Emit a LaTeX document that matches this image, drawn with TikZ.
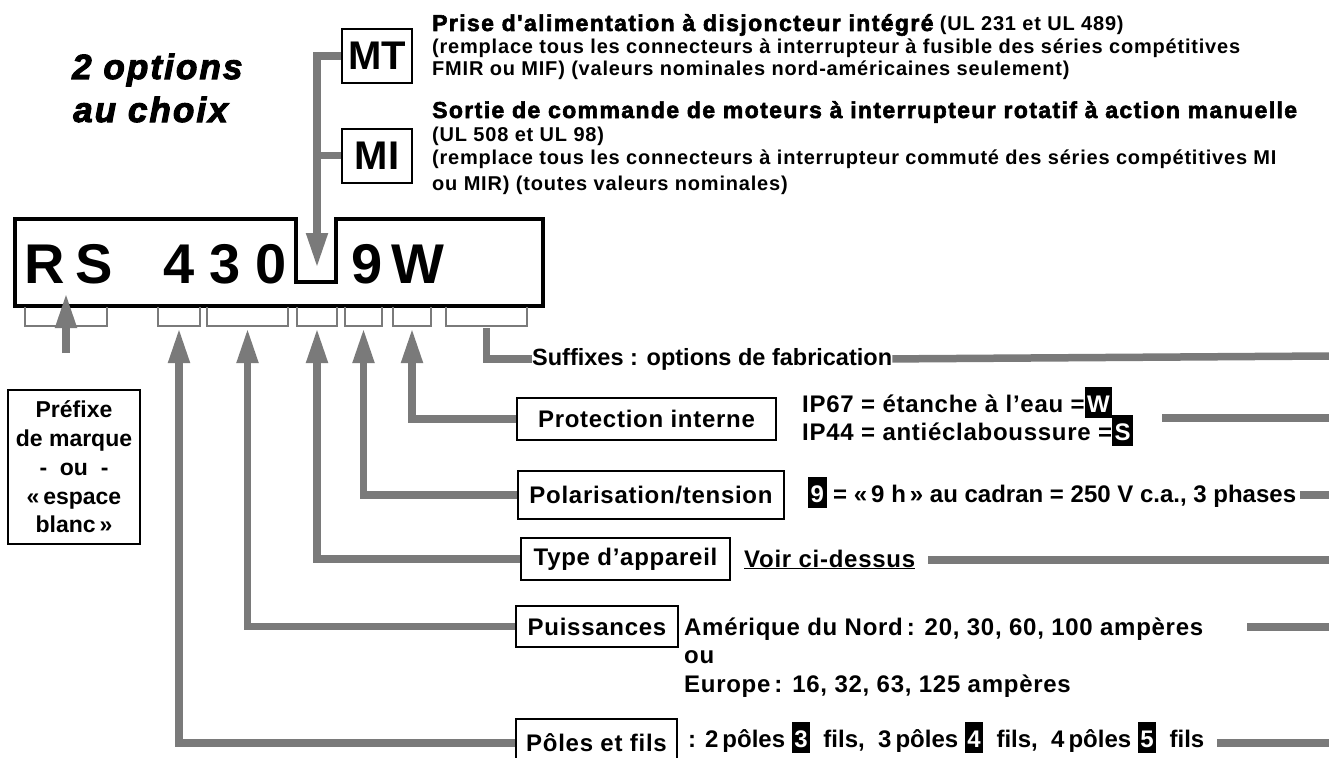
\documentclass[tikz,border=0pt]{standalone}
\usepackage{fontspec}
\setmainfont{Liberation Sans}
\newfontfamily\titlefont[LetterSpace=6,BoldItalicFeatures={FakeBold=3}]{Liberation Sans}
\newfontfamily\heavyfont[LetterSpace=6,BoldFeatures={FakeBold=2.5}]{Liberation Sans}
\newfontfamily\bodyfont[LetterSpace=4]{Liberation Sans}
\newfontfamily\spacedfont[LetterSpace=3]{Liberation Sans}
\usetikzlibrary{arrows.meta}

\definecolor{lead}{RGB}{122,122,122}

% white figure on a black square
\newcommand{\invchar}[1]{{\setlength{\fboxsep}{1.5pt}\colorbox{black}{\rule[-4pt]{0pt}{27.5pt}\kern1pt\textcolor{white}{#1}\kern1pt}}}

\tikzset{
    conn/.style={draw=lead, line width=7.5pt},
    tip/.style={-{Triangle[length=35pt,width=20pt]}},
    bracket/.style={draw=lead, line width=2.5pt},
    codechar/.style={anchor=base, inner sep=0pt, font=\bfseries\fontsize{56}{60}\selectfont},
    optbox/.style={draw, line width=2pt, minimum width=70pt, minimum height=54pt,
        inner sep=0pt, font=\bfseries\fontsize{40}{40}\selectfont},
    fieldbox/.style={draw, line width=2pt, inner sep=0pt,
        font=\spacedfont\bfseries\fontsize{24}{28}\selectfont},
    fieldtext/.style={anchor=base west, inner sep=0pt,
        font=\spacedfont\bfseries\fontsize{24}{28}\selectfont},
    toptext/.style={anchor=base west, inner sep=0pt,
        font=\bodyfont\bfseries\fontsize{20}{22}\selectfont}
}

\begin{document}
\begin{tikzpicture}[x=1pt, y=-1pt]

\path[use as bounding box, fill=white] (0,0) rectangle (1329,757);

% title
\node[anchor=base west, inner sep=0pt, font=\titlefont\bfseries\itshape\fontsize{35}{40}\selectfont]
    (opt1) at (72,79) {2 options};
\node[anchor=base west, inner sep=0pt, font=\titlefont\bfseries\itshape\fontsize{35}{40}\selectfont]
    (opt2) at (73,122) {au choix};

% the two options
\node[optbox] (mt) at (377,56) {MT};
\node[optbox] (mi) at (377,155.5) {MI};

\node[toptext] (l1) at (432,31)
    {{\heavyfont\fontsize{23}{22}\selectfont Prise d'alimentation à disjoncteur intégré} (UL 231 et UL 489)};
\node[toptext] (l2) at (432,54)
    {(remplace tous les connecteurs à interrupteur à fusible des séries compétitives};
\node[toptext] (l3) at (432,76)
    {FMIR ou MIF) (valeurs nominales nord-américaines seulement)};
\node[toptext] (l4) at (432,118)
    {{\heavyfont\fontsize{23}{22}\selectfont Sortie de commande de moteurs à interrupteur rotatif à action manuelle}};
\node[toptext] (l5) at (432,141) {(UL 508 et UL 98)};
\node[toptext] (l6) at (432,164)
    {(remplace tous les connecteurs à interrupteur commuté des séries compétitives MI};
\node[toptext] (l7) at (432,190) {ou MIR) (toutes valeurs nominales)};

% catalogue number
\draw[line width=4.5pt] (15,219) -- (296,219) -- (296,282) -- (336,282) -- (336,219)
    -- (543,219) -- (543,306) -- (15,306) -- cycle;
\foreach \c/\x [count=\i] in {R/45,S/94,4/179,3/225,0/271,9/367,W/418}
    \node[codechar] (c\i) at (\x,283) {\c};

\coordinate (notch) at (317,268);
\draw[conn, tip] (mt.west) -| (notch);
\draw[conn] (mi.west) -- (mi.west -| notch);

% field brackets
\foreach \a/\b [count=\i] in {25/107,158/200,207/288,297/337,345/382,393/431,446/527} {
    \draw[bracket] (\a,307) |- (\b,326) -- (\b,307);
    \coordinate (br\i) at ({(\a+\b)/2},328);
}

% prefix
\node[draw, line width=2.5pt, minimum width=132pt, minimum height=154pt, inner sep=0pt,
    align=center, font=\bfseries\fontsize{23}{28.7}\selectfont]
    (pref) at (74,467) {Préfixe\\de marque\\-\ \ ou\ \ -\\«\,espace\\blanc\,»};
\coordinate (pa) at (66,353);
\coordinate (rs) at (66,293);
\draw[conn, tip] (pa) -- (rs);

% suffixes
\node[anchor=base west, inner sep=0pt, font=\bfseries\fontsize{23.5}{26}\selectfont]
    (suf) at (532,365) {Suffixes : options de fabrication};
\draw[conn] (br7) |- (suf.west);
\draw[conn] (suf.east) -- (1329,356);

% fields
\node[fieldbox, minimum width=259pt, minimum height=42pt] (prot) at (646.5,419) {Protection interne};
\node[fieldbox, minimum width=266pt, minimum height=48pt] (pol) at (651,495) {Polarisation/tension};
\node[fieldbox, minimum width=209pt, minimum height=42pt] (type) at (625.5,559) {Type d’appareil};
\node[fieldbox, minimum width=162pt, minimum height=41pt] (puis) at (597,626.5) {Puissances};
\node[fieldbox, minimum width=161pt, minimum height=48pt] (poles) at (596.5,743) {Pôles et fils};

\draw[conn, tip] (prot.west) -| (br6);
\draw[conn, tip] (pol.west) -| (br5);
\draw[conn, tip] (type.west) -| (br4);
\draw[conn, tip] (puis.west) -| (br3);
\draw[conn, tip] (poles.west) -| (br2);

% field values
\node[fieldtext] (ip67) at (802,412) {IP67 = étanche à l’eau =\invchar{W}};
\node[fieldtext] (ip44) at (802,440) {IP44 = antiéclaboussure =\invchar{S}};
\node[fieldtext, font=\bfseries\fontsize{24}{28}\selectfont] (volt) at (808,502)
    {\invchar{9} = «\,9 h\,» au cadran = 250 V c.a., 3 phases};
\node[fieldtext] (see) at (744,567) {\underline{Voir ci-dessus}};
\node[fieldtext] (na) at (684,635) {Amérique du Nord\,: 20, 30, 60, 100 ampères};
\node[fieldtext] (or) at (684,663) {ou};
\node[fieldtext] (eu) at (684,692) {Europe\,: 16, 32, 63, 125 ampères};
\node[fieldtext, font=\bfseries\fontsize{24}{28}\selectfont] (wires) at (688,747)
    {: 2\,pôles \invchar{3}\ \ fils,\ \ 3\,pôles \invchar{4}\ \ fils,\ \ 4\,pôles \invchar{5}\ \ fils};

% leaders to the right edge
\foreach \xa/\yy in {1162/418,1300/495,928/560,1247/627,1217/743}
    \draw[conn] (\xa,\yy) -- (1329,\yy);

\end{tikzpicture}
\end{document}
